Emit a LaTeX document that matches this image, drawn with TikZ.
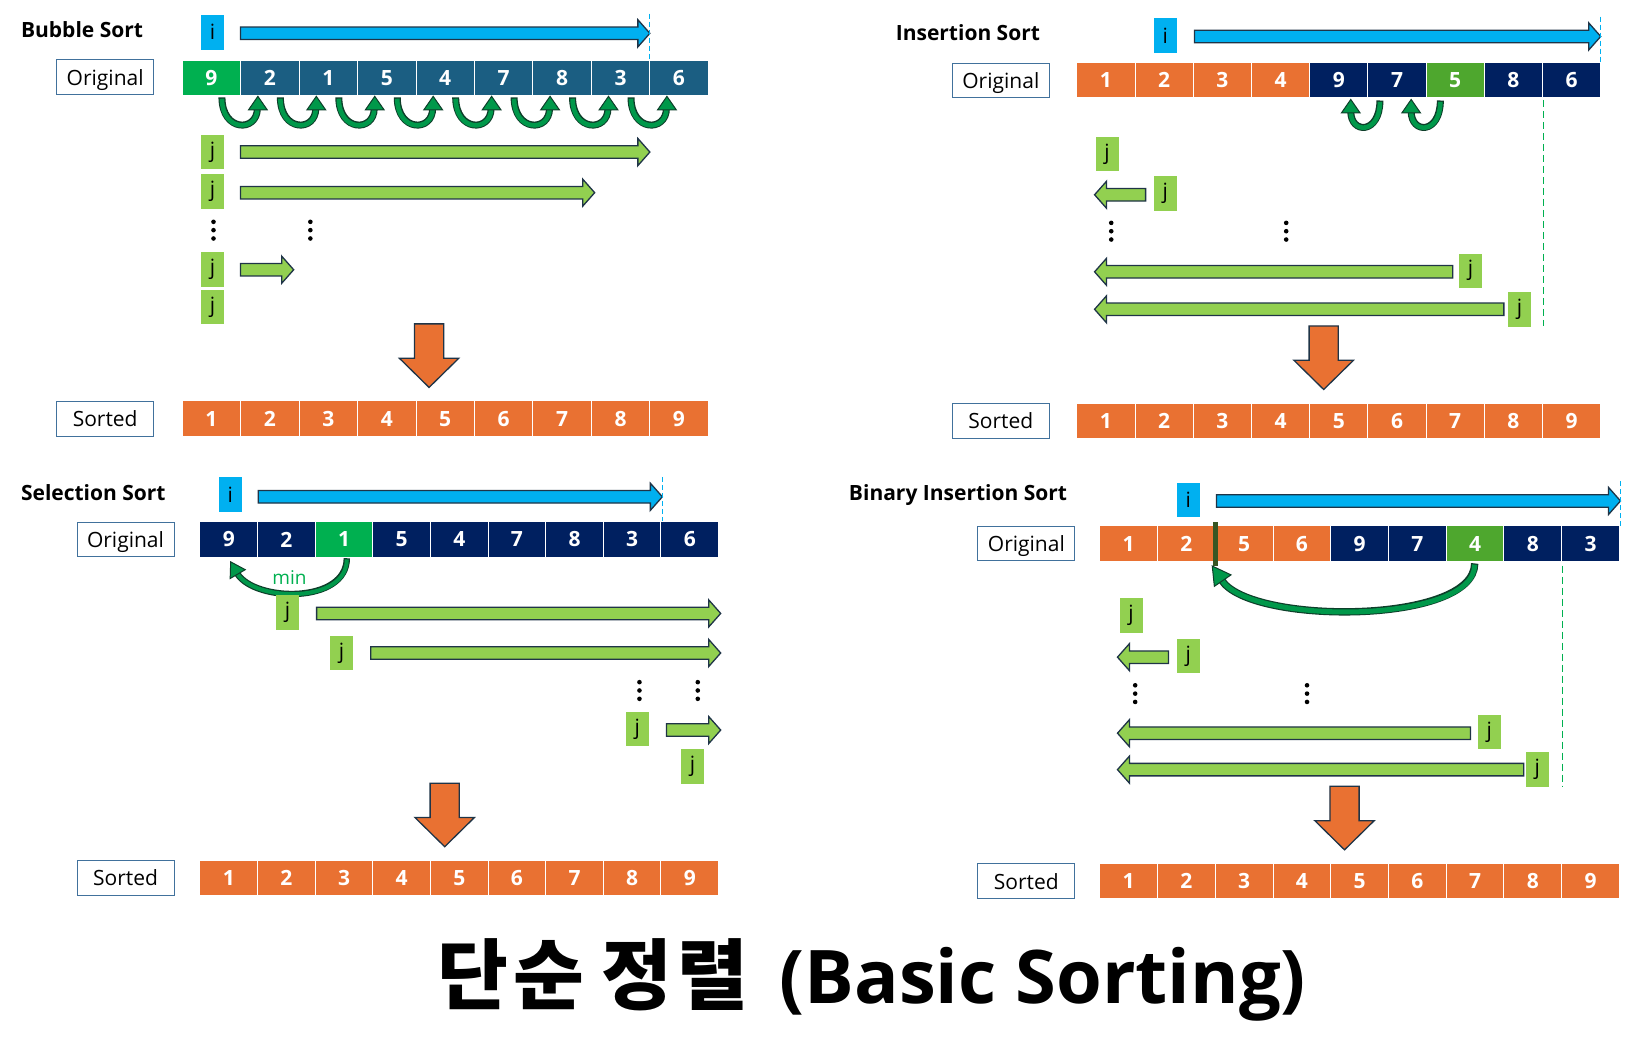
\documentclass[tikz,border=0pt]{standalone}
\usepackage{fontspec}
\setmainfont{Open Sans}
\newfontfamily\krfont{Noto Sans CJK KR}
\usetikzlibrary{arrows.meta}
\definecolor{cyanc}{HTML}{00B0F0}
\definecolor{jgreen}{HTML}{92D050}
\definecolor{cNavy}{HTML}{002060}
\definecolor{cTeal}{HTML}{1B5E82}
\definecolor{cOrange}{HTML}{E97132}
\definecolor{cGreen}{HTML}{00B050}
\definecolor{cGreenB}{HTML}{4EA72E}
\definecolor{outl}{HTML}{1F3447}
\definecolor{lblue}{HTML}{41719C}
\definecolor{ugreen}{HTML}{00984A}
\definecolor{ugdark}{HTML}{0E3E2A}
\definecolor{barg}{HTML}{375623}
% row of cells: prefix, x0, ytop, cell width, list value/colour
\newcommand\cellrow[5]{%
  \foreach \vv/\cc [count=\kk from 0] in {#5}{%
    \path[fill=\cc, draw=white, line width=1pt] ({#2+\kk*#4},#3) rectangle ({#2+(\kk+1)*#4},{#3+34});
    \node[num] (#1\kk) at ({#2+(\kk+0.5)*#4},{#3+17}) {\vv};
  }}
% block arrow pointing right: tail x, tip x, y, fill
\newcommand\rarr[4]{%
  \draw[blk, fill=#4] (#1,{#3-6}) -- ({#2-11.5},{#3-6}) -- ({#2-11.5},{#3-13}) -- (#2,#3) -- ({#2-11.5},{#3+13}) -- ({#2-11.5},{#3+6}) -- (#1,{#3+6}) -- cycle;}
% block arrow pointing left: tip x, tail x, y, fill
\newcommand\larr[4]{%
  \draw[blk, fill=#4] (#2,{#3-6}) -- ({#1+11.5},{#3-6}) -- ({#1+11.5},{#3-13}) -- (#1,#3) -- ({#1+11.5},{#3+13}) -- ({#1+11.5},{#3+6}) -- (#2,{#3+6}) -- cycle;}
% big orange down arrow: centre x, top y
\newcommand\darr[2]{%
  \draw[blk, fill=cOrange] ({#1-14},#2) -- ({#1+14},#2) -- ({#1+14},{#2+33}) -- ({#1+28.5},{#2+33}) -- (#1,{#2+61}) -- ({#1-28.5},{#2+33}) -- ({#1-14},{#2+33}) -- cycle;}
% vertical dots
\newcommand\vdts[2]{\foreach \dd in {0,8,16}{\fill ({#1},{#2+\dd}) circle (2.3pt);}}
% bubble swap U arrow (head on the right)
\newcommand\ubub[1]{%
  \draw[ugdark, line width=7pt] ({#1-18},93.5) .. controls ({#1-18},127) and ({#1+16},127) .. ({#1+16},104);
  \draw[ugreen, line width=4.6pt] ({#1-18},94.8) .. controls ({#1-18},127) and ({#1+16},127) .. ({#1+16},104.5);
  \draw[fill=ugreen, draw=ugdark, line width=1pt, line join=miter] ({#1+7.5},105.5) -- ({#1+16.5},92.5) -- ({#1+25.5},105.5) -- cycle;}
% insertion swap U arrow (head on the left)
\newcommand\uins[1]{%
  \draw[ugdark, line width=7pt] ({#1+12},96.5) .. controls ({#1+12},129) and ({#1-16},129) .. ({#1-16},107);
  \draw[ugreen, line width=4.6pt] ({#1+12},97.8) .. controls ({#1+12},129) and ({#1-16},129) .. ({#1-16},107.5);
  \draw[fill=ugreen, draw=ugdark, line width=1pt, line join=miter] ({#1-25},108.5) -- ({#1-16},95.5) -- ({#1-7},108.5) -- cycle;}
\begin{document}
\begin{tikzpicture}[x=1.0415pt, y=-1.0415pt,
  num/.style={font=\bfseries\fontsize{21}{25}\selectfont, text=white, inner sep=0pt},
  blk/.style={draw=outl, line width=1.3pt, line join=miter},
  sectitle/.style={anchor=west, inner sep=0pt, font=\bfseries\fontsize{21}{25}\selectfont},
  lbl/.style={draw=lblue, line width=0.8pt, fill=white, minimum width=97pt, minimum height=34.5pt, inner sep=0pt, text depth=0pt, font=\fontsize{21}{25}\selectfont},
  ij/.style={minimum width=23pt, minimum height=34.5pt, inner sep=0pt, font=\fontsize{21}{25}\selectfont},
  ibox/.style={ij, fill=cyanc},
  jbox/.style={ij, fill=jgreen},
  bdash/.style={draw=cyanc, line width=1.2pt, dash pattern=on 5pt off 3pt},
  gdash/.style={draw=cGreen, line width=1.2pt, dash pattern=on 7pt off 4pt}
]
\useasboundingbox (0,0) rectangle (1568,1020.65);

%================ Bubble Sort =================
\node[sectitle] (bt) at (20,28) {Bubble Sort};
\node[ibox] (bi) at (204,31) {i};
\rarr{231}{624}{32}{cyanc}
\draw[bdash] (624,13) -- (624,58);
\node[lbl] (bol) at (101,74) {Original};
\cellrow{bo}{175}{58}{56.11}{9/cGreen,2/cTeal,1/cTeal,5/cTeal,4/cTeal,7/cTeal,8/cTeal,3/cTeal,6/cTeal}
\foreach \k in {1,...,8}{\ubub{175+\k*56.11}}
\node[jbox] (bj1) at (204,146) {j};
\node[jbox] (bj2) at (204,184) {j};
\node[jbox] (bj3) at (204,259) {j};
\node[jbox] (bj4) at (204,295) {j};
\rarr{231}{624}{146}{jgreen}
\rarr{231}{571}{185}{jgreen}
\rarr{231}{282}{259}{jgreen}
\vdts{205}{213}
\vdts{298}{213}
\darr{412}{311}
\node[lbl] (bsl) at (101,402) {Sorted};
\cellrow{bs}{175}{385}{56.11}{1/cOrange,2/cOrange,3/cOrange,4/cOrange,5/cOrange,6/cOrange,7/cOrange,8/cOrange,9/cOrange}

%================ Insertion Sort =================
\node[sectitle] (it) at (860,31) {Insertion Sort};
\node[ibox] (ii) at (1119,34) {i};
\rarr{1147}{1537}{35}{cyanc}
\draw[bdash] (1537,16) -- (1537,60);
\node[lbl] (iol) at (961,77) {Original};
\cellrow{io}{1034}{60}{55.89}{1/cOrange,2/cOrange,3/cOrange,4/cOrange,9/cNavy,7/cNavy,5/cGreenB,8/cNavy,6/cNavy}
\uins{1313}
\uins{1371}
\draw[gdash] (1482,96) -- (1482,313);
\node[jbox] (ij1) at (1063,148) {j};
\node[jbox] (ij2) at (1119,186) {j};
\node[jbox] (ij3) at (1412,260) {j};
\node[jbox] (ij4) at (1459,297) {j};
\larr{1051}{1100}{187}{jgreen}
\larr{1051}{1395}{261}{jgreen}
\larr{1051}{1444}{297}{jgreen}
\vdts{1067}{214}
\vdts{1235}{214}
\darr{1271}{313}
\node[lbl] (isl) at (961,404) {Sorted};
\cellrow{is}{1034}{387}{55.89}{1/cOrange,2/cOrange,3/cOrange,4/cOrange,5/cOrange,6/cOrange,7/cOrange,8/cOrange,9/cOrange}

%================ Selection Sort =================
\node[sectitle] (st) at (20,473) {Selection Sort};
\node[ibox] (si) at (221,475) {i};
\rarr{248}{636}{477}{cyanc}
\draw[bdash] (636,458) -- (636,501);
\node[lbl] (sol) at (120.5,518) {Original};
\cellrow{so}{192}{501}{55.33}{9/cNavy,2/cNavy,1/cGreen,5/cNavy,4/cNavy,7/cNavy,8/cNavy,3/cNavy,6/cNavy}
\draw[ugdark, line width=6.4pt] (333,536) .. controls (333,580) and (245,578) .. (228,551);
\draw[ugreen, line width=4pt] (333,537.2) .. controls (333,580) and (245,578) .. (228,551);
\draw[fill=ugreen, draw=ugdark, line width=1pt, line join=miter] (221.5,539.5) -- (235.5,547) -- (221,555.5) -- cycle;
\node[text=cGreen, inner sep=0pt, font=\fontsize{19}{22}\selectfont] (minl) at (278,555) {min};
\node[jbox] (sj1) at (276,588) {j};
\node[jbox] (sj2) at (328,627) {j};
\node[jbox] (sj3) at (612,700) {j};
\node[jbox] (sj4) at (665,736) {j};
\rarr{304}{692}{589}{jgreen}
\rarr{356}{692}{627}{jgreen}
\rarr{640}{692}{701}{jgreen}
\vdts{614}{655}
\vdts{670}{655}
\darr{427}{752}
\node[lbl] (ssl) at (120.5,843) {Sorted};
\cellrow{ss}{192}{826}{55.33}{1/cOrange,2/cOrange,3/cOrange,4/cOrange,5/cOrange,6/cOrange,7/cOrange,8/cOrange,9/cOrange}

%================ Binary Insertion Sort =================
\node[sectitle] (nt) at (815,475) {Binary Insertion Sort};
\node[ibox] (ni) at (1141,480) {i};
\rarr{1168}{1556}{481}{cyanc}
\draw[bdash] (1556,462) -- (1556,505);
\node[lbl] (nol) at (985.5,522) {Original};
\cellrow{no}{1056}{505}{55.44}{1/cOrange,2/cOrange,5/cOrange,6/cOrange,9/cNavy,7/cNavy,4/cGreenB,8/cNavy,3/cNavy}
\fill[barg] (1164.5,501) rectangle (1169.5,543);
\draw[ugdark, line width=7.4pt] (1416,541) .. controls (1416,600) and (1200,600) .. (1173,557);
\draw[ugreen, line width=5pt] (1416,542.2) .. controls (1416,600) and (1200,600) .. (1173,557);
\draw[fill=ugreen, draw=ugdark, line width=1pt, line join=miter] (1164,543.5) -- (1182,552) -- (1166,563) -- cycle;
\draw[gdash] (1500,543) -- (1500,755);
\node[jbox] (nj1) at (1086,591) {j};
\node[jbox] (nj2) at (1141,630) {j};
\node[jbox] (nj3) at (1430,703) {j};
\node[jbox] (nj4) at (1476,739) {j};
\larr{1073}{1122}{631}{jgreen}
\larr{1073}{1412}{704}{jgreen}
\larr{1073}{1463}{739}{jgreen}
\vdts{1090}{658}
\vdts{1255}{658}
\darr{1291}{755}
\node[lbl] (nsl) at (985.5,846) {Sorted};
\cellrow{ns}{1056}{829}{55.44}{1/cOrange,2/cOrange,3/cOrange,4/cOrange,5/cOrange,6/cOrange,7/cOrange,8/cOrange,9/cOrange}

%================ Title =================
\node[anchor=base, inner sep=0pt, font=\bfseries\fontsize{74}{80}\selectfont] (maintitle) at (837,964) {{\krfont\fontsize{77}{80}\selectfont 단\hspace{5pt}순 정\hspace{5pt}렬}\hspace{12pt} (Basic Sorting)};
\end{tikzpicture}
\end{document}
